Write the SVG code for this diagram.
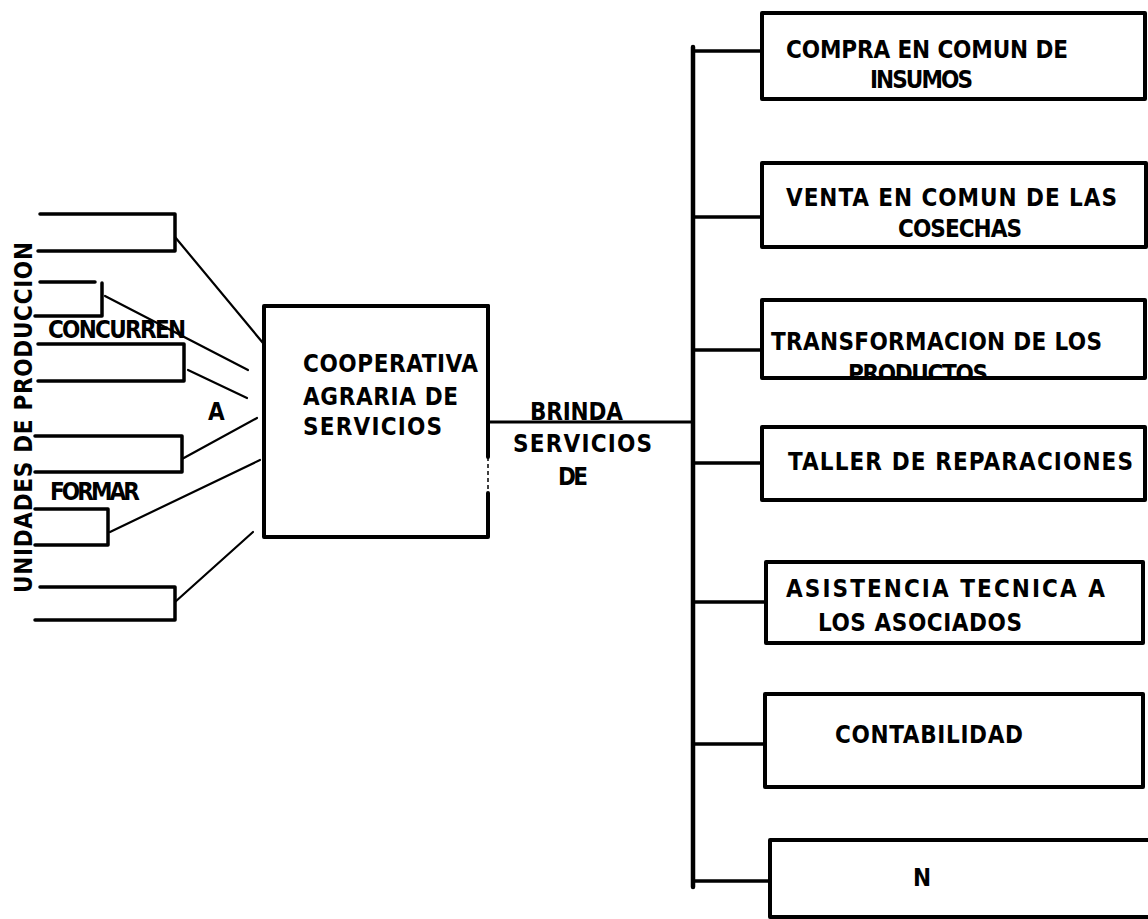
<svg xmlns="http://www.w3.org/2000/svg" width="1148" height="919" viewBox="0 0 1148 919">
<style>
.box{fill:none;stroke:#000;stroke-width:4;stroke-linejoin:round;stroke-linecap:round}
.br{fill:none;stroke:#000;stroke-width:3.5;stroke-linejoin:round;stroke-linecap:round}
.ln{fill:none;stroke:#000;stroke-width:2.2;stroke-linecap:round}
.tk{fill:none;stroke:#000;stroke-width:3.5;stroke-linecap:round}
.t{font-family:"DejaVu Sans","DejaVu Sans Condensed",sans-serif;font-stretch:condensed;font-weight:bold;font-size:24px;fill:#000}
</style>
<defs>
<clipPath id="clipP"><rect x="762" y="300" width="383" height="76"/></clipPath>
</defs>
<rect width="1148" height="919" fill="#fff"/>

<g id="label-unidades">
<text class="t" transform="translate(32,593) rotate(-90)" x="0" y="0" textLength="351" lengthAdjust="spacing">UNIDADES DE PRODUCCION</text>
</g>

<g id="unit1"><path class="br" d="M40,214 H175 V251 H38"/></g>
<g id="unit2"><path class="br" d="M40,282 H95 M102,283 V316 H35"/></g>
<g id="unit3"><path class="br" d="M38,344 H184 V381 H38"/></g>
<g id="unit4"><path class="br" d="M35,436 H182 V472 H35"/></g>
<g id="unit5"><path class="br" d="M35,509 H108 V545 H35"/></g>
<g id="unit6"><path class="br" d="M40,587 H175 V620 H35"/></g>

<g id="labels-left">
<text class="t" x="48" y="338" textLength="138" lengthAdjust="spacing">CONCURREN</text>
<text class="t" x="208" y="420">A</text>
<text class="t" x="50" y="500" textLength="90" lengthAdjust="spacing">FORMAR</text>
</g>

<g id="cooperativa">
<path class="box" d="M488,306 H264 V537 H488 V493"/>
<path class="box" d="M488,306 V457"/>
<path d="M488,457 V493" fill="none" stroke="#000" stroke-width="1.5" stroke-dasharray="4,3"/>
<text class="t" x="303" y="372" textLength="175" lengthAdjust="spacing">COOPERATIVA</text>
<text class="t" x="303" y="405" textLength="155" lengthAdjust="spacing">AGRARIA DE</text>
<text class="t" x="303" y="435" textLength="139" lengthAdjust="spacing">SERVICIOS</text>
</g>

<g id="connectors">
<line class="ln" x1="175" y1="237" x2="263" y2="343"/>
<line class="ln" x1="105" y1="296" x2="248" y2="370"/>
<line class="ln" x1="188" y1="370" x2="247" y2="398"/>
<line class="ln" x1="182" y1="459" x2="257" y2="418"/>
<line class="ln" x1="110" y1="532" x2="260" y2="460"/>
<line class="ln" x1="175" y1="602" x2="253" y2="532"/>
<line class="tk" x1="488" y1="422" x2="693" y2="422" style="stroke-width:3"/>
<line class="tk" x1="693" y1="47" x2="693" y2="887" style="stroke-width:4.5"/>
<line class="tk" x1="693" y1="51" x2="762" y2="51"/>
<line class="tk" x1="693" y1="217" x2="762" y2="217"/>
<line class="tk" x1="693" y1="350" x2="762" y2="350"/>
<line class="tk" x1="693" y1="463" x2="762" y2="463"/>
<line class="tk" x1="693" y1="602" x2="766" y2="602"/>
<line class="tk" x1="693" y1="744" x2="765" y2="744"/>
<line class="tk" x1="693" y1="881" x2="770" y2="881"/>
</g>

<g id="brinda-label">
<text class="t" x="530" y="420" textLength="93" lengthAdjust="spacing">BRINDA</text>
<text class="t" x="513" y="452" textLength="139" lengthAdjust="spacing">SERVICIOS</text>
<text class="t" x="558" y="485" textLength="30" lengthAdjust="spacing">DE</text>
</g>

<g id="svc-compra">
<rect class="box" x="762" y="13" width="383" height="86"/>
<text class="t" x="786" y="58" textLength="282" lengthAdjust="spacing">COMPRA EN COMUN DE</text>
<text class="t" x="870" y="88" textLength="103" lengthAdjust="spacing">INSUMOS</text>
</g>

<g id="svc-venta">
<rect class="box" x="762" y="163" width="384" height="84"/>
<text class="t" x="786" y="206" textLength="331" lengthAdjust="spacing">VENTA EN COMUN DE LAS</text>
<text class="t" x="898" y="237" textLength="124" lengthAdjust="spacing">COSECHAS</text>
</g>

<g id="svc-transformacion">
<rect class="box" x="762" y="300" width="383" height="78"/>
<text class="t" x="771" y="350" textLength="331" lengthAdjust="spacing">TRANSFORMACION DE LOS</text>
<text class="t" x="848" y="382" textLength="140" lengthAdjust="spacing" clip-path="url(#clipP)">PRODUCTOS</text>
</g>

<g id="svc-taller">
<rect class="box" x="762" y="427" width="383" height="73"/>
<text class="t" x="788" y="470" textLength="345" lengthAdjust="spacing">TALLER DE REPARACIONES</text>
</g>

<g id="svc-asistencia">
<rect class="box" x="766" y="562" width="377" height="81"/>
<text class="t" x="786" y="597" textLength="319" lengthAdjust="spacing">ASISTENCIA TECNICA A</text>
<text class="t" x="818" y="631" textLength="204" lengthAdjust="spacing">LOS ASOCIADOS</text>
</g>

<g id="svc-contabilidad">
<rect class="box" x="765" y="694" width="378" height="93"/>
<text class="t" x="835" y="743" textLength="188" lengthAdjust="spacing">CONTABILIDAD</text>
</g>

<g id="svc-n">
<path class="box" d="M1150,840 H770 V917 H1150"/>
<text class="t" x="913" y="886">N</text>
</g>
</svg>
